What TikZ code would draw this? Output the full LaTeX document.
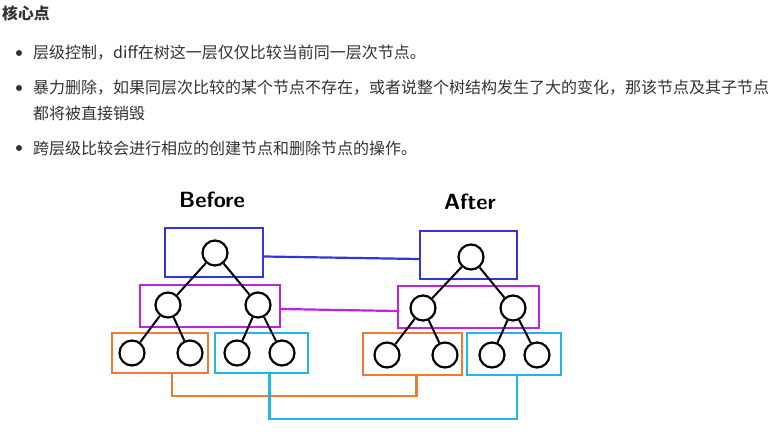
\documentclass[tikz,border=0pt]{standalone}
\usepackage{fontspec}
\newfontfamily\cjk{Noto Sans CJK SC}
\usetikzlibrary{positioning}

\definecolor{txtgray}{HTML}{333333}
\definecolor{lvlblue}{HTML}{3434DC}
\definecolor{lvlpurple}{HTML}{BE22E2}
\definecolor{lvlorange}{HTML}{F07A34}
\definecolor{lvlcyan}{HTML}{22B6E8}

\begin{document}
\begin{tikzpicture}[x=1pt, y=-1pt,
  box/.style={draw, line width=2.2pt, inner sep=0pt},
  nd/.style={draw, circle, line width=2.2pt, fill=white, minimum size=25pt, inner sep=0pt},
  edge/.style={line width=2pt},
  link/.style={line width=2.2pt},
  txt/.style={anchor=west, inner sep=0pt, text=txtgray, font=\cjk\fontsize{16}{18}\selectfont},
  hand/.style={font=\sffamily\fontsize{22}{24}\selectfont}
]
  \useasboundingbox[fill=white] (0,0) rectangle (774,441);

  % text part
  \node[txt, font=\cjk\bfseries\fontsize{15.8}{18}\selectfont] (title) at (2,13) {核心点};
  \fill[txtgray] (19,53) circle (3);
  \fill[txtgray] (19,88) circle (3);
  \fill[txtgray] (19,148) circle (3);
  \node[txt] (p1) at (33,53) {层级控制，diff在树这一层仅仅比较当前同一层次节点。};
  \node[txt] (p2) at (33,88) {暴力删除，如果同层次比较的某个节点不存在，或者说整个树结构发生了大的变化，那该节点及其子节点};
  \node[txt] (p2b) at (33,113) {都将被直接销毁};
  \node[txt] (p3) at (33,148) {跨层级比较会进行相应的创建节点和删除节点的操作。};

  % labels
  \node[hand] (before) at (212,200) {\bfseries Before};
  \node[hand] (after) at (470,202) {\bfseries After};

  % level boxes, before
  \node[box, draw=lvlblue, minimum width=98pt, minimum height=49pt] (bBlue) at (214,252.5) {};
  \node[box, draw=lvlpurple, minimum width=140pt, minimum height=42pt] (bPurple) at (210,306) {};
  \node[box, draw=lvlorange, minimum width=96pt, minimum height=40pt] (bOrange) at (160,353) {};
  \node[box, draw=lvlcyan, minimum width=93pt, minimum height=40pt] (bCyan) at (261.5,353) {};

  % level boxes, after
  \node[box, draw=lvlblue, minimum width=97pt, minimum height=48pt] (aBlue) at (468.5,255) {};
  \node[box, draw=lvlpurple, minimum width=141pt, minimum height=42pt] (aPurple) at (468.5,307) {};
  \node[box, draw=lvlorange, minimum width=99pt, minimum height=42pt] (aOrange) at (412.5,354) {};
  \node[box, draw=lvlcyan, minimum width=94pt, minimum height=42pt] (aCyan) at (514,354) {};

  % links between levels
  \draw[link, lvlblue] ([yshift=-4pt]bBlue.east) -- ([yshift=-4pt]aBlue.west);
  \draw[link, lvlpurple] ([yshift=-3pt]bPurple.east) -- ([yshift=-4pt]aPurple.west);
  \draw[link, lvlorange] ([xshift=12pt]bOrange.south) -- ++(0,22) -| ([xshift=4pt]aOrange.south);
  \draw[link, lvlcyan] ([xshift=8pt]bCyan.south) -- ++(0,45) -| ([xshift=3pt]aCyan.south);

  % tree before
  \node[nd] (bR) at (215,253) {};
  \node[nd] (bL) at (168,305) {};
  \node[nd] (bRt) at (258,305) {};
  \node[nd] (bLL) at (132,353) {};
  \node[nd] (bLR) at (190,353) {};
  \node[nd] (bRL) at (237,353) {};
  \node[nd] (bRR) at (282,353) {};
  \draw[edge] (bR) -- (bL);
  \draw[edge] (bR) -- (bRt);
  \draw[edge] (bL) -- (bLL);
  \draw[edge] (bL) -- (bLR);
  \draw[edge] (bRt) -- (bRL);
  \draw[edge] (bRt) -- (bRR);

  % tree after
  \node[nd] (aR) at (471,257) {};
  \node[nd] (aL) at (423,308) {};
  \node[nd] (aRt) at (513,308) {};
  \node[nd] (aLL) at (387,355) {};
  \node[nd] (aLR) at (445,355) {};
  \node[nd] (aRL) at (492,355) {};
  \node[nd] (aRR) at (537,355) {};
  \draw[edge] (aR) -- (aL);
  \draw[edge] (aR) -- (aRt);
  \draw[edge] (aL) -- (aLL);
  \draw[edge] (aL) -- (aLR);
  \draw[edge] (aRt) -- (aRL);
  \draw[edge] (aRt) -- (aRR);
\end{tikzpicture}
\end{document}
